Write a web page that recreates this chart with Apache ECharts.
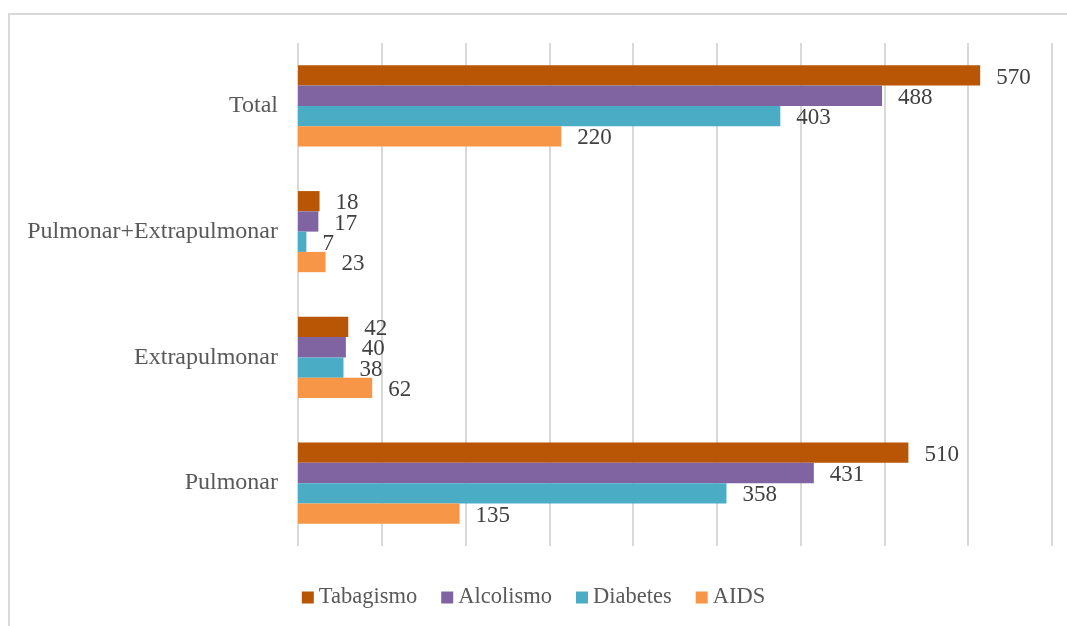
<!DOCTYPE html>
<html>
<head>
<meta charset="utf-8">
<script src="https://cdn.jsdelivr.net/npm/echarts@6/dist/echarts.min.js"></script>
<style>
  html, body { margin: 0; padding: 0; background: #fff; }
  #chart { width: 1067px; height: 626px; }
</style>
</head>
<body>
<div id="chart"></div>
<script>
// categories, bottom to top
const categories = ['Pulmonar', 'Extrapulmonar', 'Pulmonar+Extrapulmonar', 'Total']
const seriesNames = ['Tabagismo', 'Alcolismo', 'Diabetes', 'AIDS']
const tabagismo = [510, 42, 18, 570]
const alcolismo = [431, 40, 17, 488]
const diabetes = [358, 38, 7, 403]
const aids = [135, 62, 23, 220]
const colors = ['#b85606', '#8064a2', '#4bacc6', '#f79646']

const font = "'Liberation Serif', 'Times New Roman', serif"
const chart = echarts.init(document.getElementById('chart'))

const values = [tabagismo, alcolismo, diabetes, aids]
// y axis is inverted so Total is on top and Tabagismo heads each group
const series = seriesNames.map((name, i) => ({
  name: name,
  type: 'bar',
  data: values[i].slice().reverse(),
  itemStyle: { color: colors[i] },
  barGap: '0%',
  barCategoryGap: '35.5%',
  label: {
    show: true,
    position: 'right',
    distance: 16,
    offset: [0, 2],
    fontFamily: font,
    fontSize: 23,
    color: '#404040'
  }
}))

chart.setOption({
  animation: false,
  textStyle: { fontFamily: font },
  graphic: [{
    type: 'rect',
    shape: { x: 9, y: 14, width: 1200, height: 800 },
    style: { fill: 'none', stroke: '#d9d9d9', lineWidth: 2 },
    silent: true
  }],
  legend: {
    data: seriesNames,
    bottom: 12,
    left: 'center',
    itemWidth: 12,
    itemHeight: 12,
    itemGap: 24,
    icon: 'rect',
    textStyle: { fontFamily: font, fontSize: 22.5, color: '#595959' }
  },
  grid: { left: 298, right: 15, top: 43, bottom: 80 },
  xAxis: {
    type: 'value',
    min: 0,
    max: 630,
    interval: 70,
    axisLine: { show: false },
    axisTick: { show: false },
    axisLabel: { show: false },
    splitLine: { show: true, lineStyle: { color: '#d9d9d9', width: 2 } }
  },
  yAxis: {
    type: 'category',
    inverse: true,
    data: categories.slice().reverse(),
    axisLine: { show: false },
    axisTick: { show: false },
    axisLabel: { margin: 20, fontFamily: font, fontSize: 24, color: '#595959' }
  },
  series: series
})
</script>
</body>
</html>
